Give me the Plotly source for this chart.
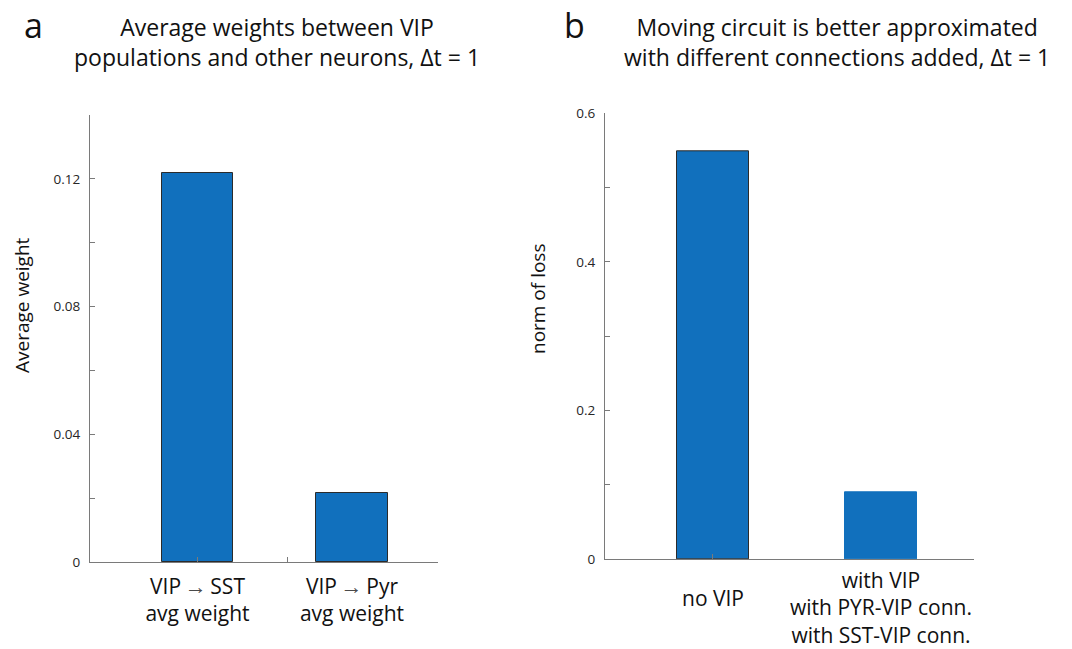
import plotly.graph_objects as go

# ---- data ----
arrow = "<span style='font-size:22px;fill:#4a4a4a'>\u2009→\u2009</span>"
weight_labels = [f"VIP{arrow}SST<br>avg weight", f"VIP{arrow}Pyr<br>avg weight"]
weight_values = [0.1218, 0.0218]

loss_labels = ["no VIP", "with VIP<br>with PYR-VIP conn.<br>with SST-VIP conn."]
loss_values = [0.549, 0.0898]

# ---- style ----
W, H = 1072, 649
BLUE = "#1170bd"
EDGE = "#2b2b2b"
AXIS = "#7a7a7a"
TEXT = "#111111"
TICK = "#262626"
FONT = "Open Sans"


def fx(p):
    return p / W


def fy(p):
    return 1 - p / H


xa = list(range(1, len(weight_values) + 1))
xb = list(range(1, len(loss_values) + 1))

fig = go.Figure()
fig.add_trace(go.Bar(
    x=xa, y=weight_values, width=0.466,
    marker=dict(color=BLUE, line=dict(color=EDGE, width=1)),
    xaxis="x", yaxis="y", showlegend=False, hoverinfo="skip"))
fig.add_trace(go.Bar(
    x=xb, y=loss_values, width=0.428,
    marker=dict(color=BLUE, line=dict(color=[EDGE, BLUE], width=1)),
    xaxis="x2", yaxis="y2", showlegend=False, hoverinfo="skip"))

axis_common = dict(showline=True, linecolor=AXIS, linewidth=1, showgrid=False,
                   zeroline=False, fixedrange=True, automargin=False)

fig.update_layout(
    width=W, height=H,
    margin=dict(l=0, r=0, t=0, b=0),
    paper_bgcolor="white", plot_bgcolor="white",
    font=dict(family=FONT, color=TEXT),
    bargap=0,
    xaxis=dict(domain=[fx(90), fx(438)], anchor="y", range=[0.304, 2.557],
               tickmode="array", tickvals=xa, ticktext=weight_labels, ticks="",
               tickfont=dict(size=21, color=TEXT), ticklabelstandoff=5,
               minor=dict(tickmode="array", tickvals=[1, 1.58], ticks="inside",
                          ticklen=5, tickcolor=AXIS),
               **axis_common),
    yaxis=dict(domain=[fy(562.3), fy(115)], anchor="x", range=[0, 0.14],
               tick0=0, dtick=0.04, ticks="inside", ticklen=5, tickcolor=AXIS,
               tickfont=dict(size=13.5, color=TICK), ticklabelstandoff=6,
               minor=dict(dtick=0.02, ticks="inside", ticklen=5, tickcolor=AXIS),
               **axis_common),
    xaxis2=dict(domain=[fx(605), fx(974.3)], anchor="y2", range=[0.36, 2.554],
                tickmode="array", tickvals=xb, showticklabels=False, ticks="",
                minor=dict(tickmode="array", tickvals=[1], ticks="inside",
                           ticklen=5, tickcolor=AXIS),
                **axis_common),
    yaxis2=dict(domain=[fy(559), fy(113.3)], anchor="x2", range=[0, 0.6],
                tick0=0, dtick=0.2, ticks="inside", ticklen=5, tickcolor=AXIS,
                tickfont=dict(size=13.5, color=TICK), ticklabelstandoff=6,
                minor=dict(dtick=0.1, ticks="inside", ticklen=5, tickcolor=AXIS),
                **axis_common),
)

ann = []
# panel letters
ann.append(dict(text="a", x=fx(33), y=fy(0), xref="paper", yref="paper",
                xanchor="center", yanchor="top", showarrow=False,
                font=dict(size=34, color=TEXT)))
ann.append(dict(text="b", x=fx(574), y=fy(0), xref="paper", yref="paper",
                xanchor="center", yanchor="top", showarrow=False,
                font=dict(size=34, color=TEXT)))
# panel titles
ann.append(dict(text="Average weights between VIP<br>populations and other neurons, Δt = 1",
                x=fx(277), y=fy(9), xref="paper", yref="paper",
                xanchor="center", yanchor="top", showarrow=False,
                font=dict(size=23, color=TEXT)))
ann.append(dict(text="Moving circuit is better approximated<br>with different connections added, Δt = 1",
                x=fx(837), y=fy(9), xref="paper", yref="paper",
                xanchor="center", yanchor="top", showarrow=False,
                font=dict(size=23, color=TEXT)))
# y-axis titles
ann.append(dict(text="Average weight", x=fx(22), y=fy(305), xref="paper", yref="paper",
                xanchor="center", yanchor="middle", textangle=-90, showarrow=False,
                font=dict(size=19, color=TEXT)))
ann.append(dict(text="norm of loss", x=fx(538), y=fy(299), xref="paper", yref="paper",
                xanchor="center", yanchor="middle", textangle=-90, showarrow=False,
                font=dict(size=19, color=TEXT)))
# category labels of panel b
label_tops = [583, 565]
for xv, lab, top in zip(xb, loss_labels, label_tops):
    ann.append(dict(text=lab, x=xv, xref="x2", y=fy(top), yref="paper",
                    xanchor="center", yanchor="top", showarrow=False,
                    borderpad=0,
                    font=dict(size=21, color=TEXT)))

fig.update_layout(annotations=ann)

fig.write_html("out.html")
